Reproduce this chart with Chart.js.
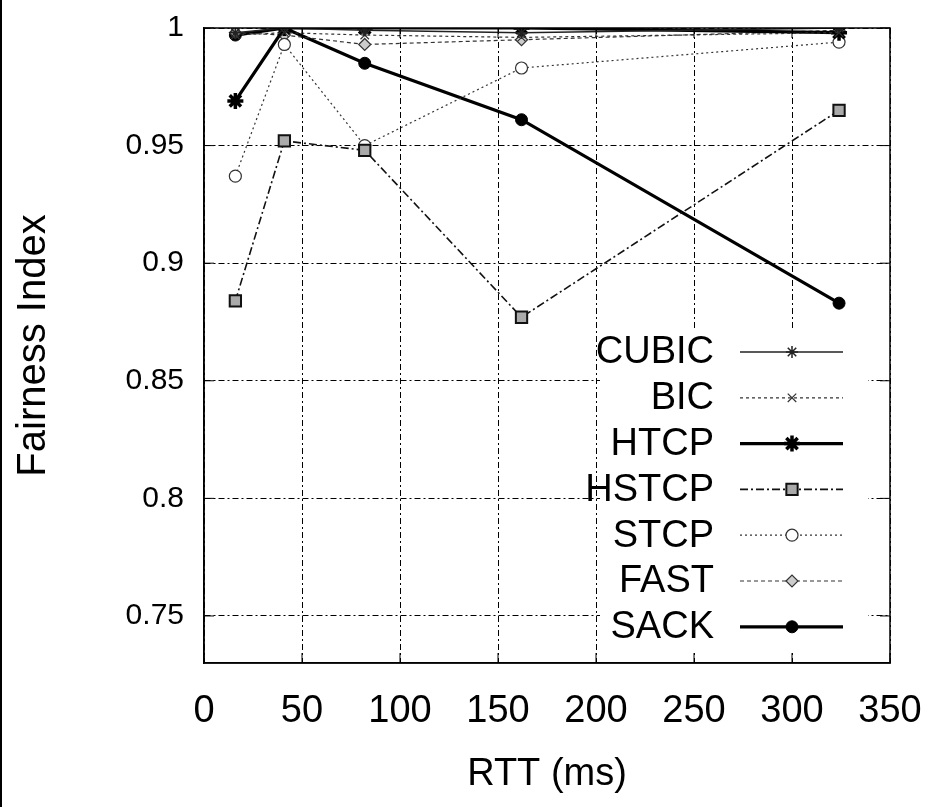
<!DOCTYPE html>
<html><head><meta charset="utf-8">
<script src="https://cdn.jsdelivr.net/npm/chart.js@4/dist/chart.umd.min.js"></script>
<style>html,body{margin:0;padding:0;background:#fff;}canvas{display:block;}</style>
</head><body>
<canvas id="c" width="932" height="807"></canvas>
<script>
// ---- data ----
const rtt = [16, 41, 82, 162, 324];
const cubic = [0.998, 1.0, 0.999, 0.998, 1.0];
const bic = [0.997, 0.998, 0.997, 0.996, 0.998];
const htcp = [0.969, 1.0, 1.0, 1.0, 0.998];
const hstcp = [0.884, 0.952, 0.948, 0.877, 0.965];
const stcp = [0.937, 0.993, 0.950, 0.983, 0.994];
const fast = [0.998, 0.997, 0.993, 0.995, 0.999];
const sack = [0.997, 1.0, 0.985, 0.961, 0.883];
const seriesNames = ['CUBIC', 'BIC', 'HTCP', 'HSTCP', 'STCP', 'FAST', 'SACK'];
const seriesValues = [cubic, bic, htcp, hstcp, stcp, fast, sack];
const xTicks = [0, 50, 100, 150, 200, 250, 300, 350];
const yTicks = [0.75, 0.8, 0.85, 0.9, 0.95, 1];
const yTickLabels = ['0.75', '0.8', '0.85', '0.9', '0.95', '1'];
const xTitle = 'RTT (ms)';
const yTitle = 'Fairness Index';

// ---- styles ----
const SANS = "'Liberation Sans',Arial,Helvetica,sans-serif";
const styles = [
  {color:'#222', width:1.5, dash:[], point:'star', r:6, pw:1.5, fill:'#fff'},
  {color:'#333', width:1.2, dash:[3,3], point:'crossRot', r:6, pw:1.2, fill:'#fff'},
  {color:'#000', width:3.2, dash:[], point:'star', r:8, pw:3.5, fill:'#000'},
  {color:'#111', width:1.6, dash:[8,3,2,3], point:'rect', r:8, pw:2, fill:'#aaa'},
  {color:'#333', width:1.2, dash:[2,3], point:'circle', r:6, pw:1.2, fill:'#fff'},
  {color:'#333', width:1.2, dash:[4,3], point:'rectRot', r:6, pw:1.2, fill:'#ccc'},
  {color:'#000', width:3.2, dash:[], point:'circle', r:6, pw:1, fill:'#000'}
];

const datasets = seriesNames.map((name, i) => ({
  label: name,
  data: rtt.map((x, j) => ({x: x, y: seriesValues[i][j]})),
  borderColor: styles[i].color,
  borderWidth: styles[i].width,
  borderDash: styles[i].dash,
  pointStyle: styles[i].point,
  pointRadius: styles[i].r,
  pointBorderWidth: styles[i].pw,
  pointBorderColor: styles[i].color,
  pointBackgroundColor: styles[i].fill,
  fill: false,
  tension: 0
}));

const decor = {
  id: 'decor',
  afterDatasetsDraw(chart) {
    const ctx = chart.ctx, a = chart.chartArea, xs = chart.scales.x, ys = chart.scales.y;
    ctx.save();
    // legend background
    ctx.fillStyle = '#fff';
    ctx.fillRect(600, 328, 268, 322);
    // frame
    ctx.strokeStyle = '#000';
    ctx.lineWidth = 1.5;
    ctx.setLineDash([]);
    ctx.strokeRect(a.left, a.top, a.right - a.left, a.bottom - a.top);
    // inner ticks
    ctx.lineWidth = 1;
    ctx.beginPath();
    xTicks.forEach(v => {
      const p = xs.getPixelForValue(v);
      ctx.moveTo(p, a.bottom); ctx.lineTo(p, a.bottom - 10);
      ctx.moveTo(p, a.top); ctx.lineTo(p, a.top + 10);
    });
    yTicks.forEach(v => {
      const p = ys.getPixelForValue(v);
      ctx.moveTo(a.left, p); ctx.lineTo(a.left + 10, p);
      ctx.moveTo(a.right, p); ctx.lineTo(a.right - 10, p);
    });
    ctx.stroke();
    // legend
    ctx.font = '38px ' + SANS;
    ctx.textAlign = 'right';
    ctx.textBaseline = 'middle';
    chart.data.datasets.forEach((ds, i) => {
      const yy = 352 + i * 45.8;
      ctx.fillStyle = '#000';
      ctx.fillText(ds.label, 714, yy + 1);
      ctx.save();
      ctx.strokeStyle = ds.borderColor;
      ctx.lineWidth = ds.borderWidth;
      ctx.setLineDash(ds.borderDash);
      ctx.beginPath(); ctx.moveTo(740, yy); ctx.lineTo(843, yy); ctx.stroke();
      ctx.setLineDash([]);
      ctx.strokeStyle = ds.pointBorderColor;
      ctx.fillStyle = ds.pointBackgroundColor;
      ctx.lineWidth = ds.pointBorderWidth;
      if (Chart.helpers && Chart.helpers.drawPoint) {
        Chart.helpers.drawPoint(ctx, {pointStyle: ds.pointStyle, radius: ds.pointRadius, rotation: 0, borderWidth: ds.pointBorderWidth}, 792, yy);
      }
      ctx.restore();
    });
    ctx.restore();
  },
  afterDraw(chart) {
    const ctx = chart.ctx;
    ctx.save();
    ctx.fillStyle = '#000';
    ctx.fillRect(0, 0, 2, chart.height);
    ctx.restore();
  }
};

function noOverflow(s) {
  s.paddingLeft = 0; s.paddingRight = 0; s.paddingTop = 0; s.paddingBottom = 0;
}

new Chart(document.getElementById('c'), {
  type: 'line',
  data: {datasets: datasets},
  plugins: [decor],
  options: {
    responsive: false,
    animation: false,
    devicePixelRatio: 1,
    layout: {padding: {top: 28, right: 42, left: 0, bottom: 0}},
    plugins: {legend: {display: false}, tooltip: {enabled: false}},
    scales: {
      x: {
        type: 'linear', min: 0, max: 350,
        afterBuildTicks: s => { s.ticks = xTicks.map(v => ({value: v})); },
        afterFit: s => { s.height = 144; noOverflow(s); },
        ticks: {font: {family: SANS, size: 38}, color: '#000', padding: 26, maxRotation: 0, autoSkip: false,
                callback: v => String(v)},
        grid: {color: '#000', lineWidth: 1, drawTicks: false},
        border: {display: true, color: '#000', width: 1.5, dash: [6, 3, 2, 3]},
        title: {display: true, text: xTitle, color: '#000', font: {family: SANS, size: 38}, padding: {top: 0, bottom: 10}}
      },
      y: {
        type: 'linear', min: 0.73, max: 1,
        afterBuildTicks: s => { s.ticks = yTicks.map(v => ({value: v})); },
        afterFit: s => { s.width = 204; noOverflow(s); },
        ticks: {font: {family: SANS, size: 30}, color: '#000', padding: 20,
                callback: v => { const k = yTicks.findIndex(t => Math.abs(t - v) < 1e-9); return k >= 0 ? yTickLabels[k] : ''; }},
        grid: {color: '#000', lineWidth: 1, drawTicks: false},
        border: {display: true, color: '#000', width: 1.5, dash: [6, 3, 2, 3]},
        title: {display: true, text: yTitle, color: '#000', font: {family: SANS, size: 40}, padding: {top: 10, bottom: 0}}
      }
    }
  }
});
</script>
</body></html>
